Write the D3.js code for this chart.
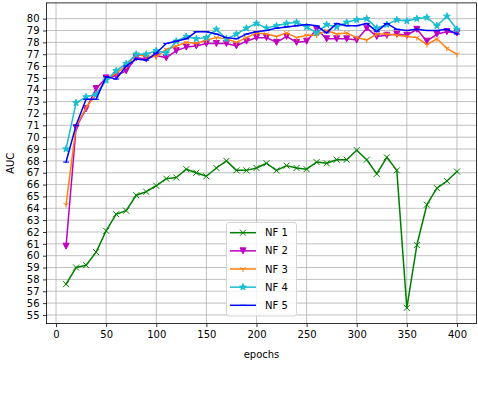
<!DOCTYPE html>
<html><head><meta charset="utf-8">
<script src="https://cdn.jsdelivr.net/npm/d3@7"></script>
<style>body{margin:0;background:#fff}svg{display:block}text{font-family:"DejaVu Sans",sans-serif}</style>
</head><body><svg id="c" width="478" height="394"></svg>
<script>
const epochs = [10,20,30,40,50,60,70,80,90,100,110,120,130,140,150,160,170,180,190,200,210,220,230,240,250,260,270,280,290,300,310,320,330,340,350,360,370,380,390,400];
const nf1 = [57.6,59.0,59.2,60.3,62.1,63.5,63.8,65.1,65.4,65.9,66.5,66.6,67.3,67.0,66.7,67.4,68.0,67.2,67.2,67.4,67.8,67.2,67.6,67.4,67.3,67.9,67.8,68.1,68.1,68.9,68.1,66.9,68.3,67.2,55.6,60.9,64.3,65.7,66.3,67.1];
const nf2 = [60.8,70.8,72.4,74.1,75.0,75.2,75.6,76.7,76.6,76.9,76.7,77.3,77.6,77.7,77.9,77.9,77.9,77.7,78.1,78.4,78.4,78.0,78.5,78.0,78.1,79.1,78.3,78.3,78.3,78.2,79.2,78.5,78.6,78.7,78.6,79.1,78.1,78.7,78.9,78.8];
const nf3 = [64.3,70.9,72.5,73.6,74.9,75.4,76.0,77.0,76.8,76.8,77.4,77.7,78.0,77.9,78.2,78.4,78.3,78.0,78.4,78.8,78.7,78.5,78.8,78.4,78.6,78.6,79.0,78.7,78.8,78.4,78.2,78.7,78.7,78.6,78.5,78.4,77.8,78.3,77.5,77.0];
const nf4 = [69.0,72.9,73.4,73.6,74.8,75.6,76.2,77.0,77.0,77.3,77.1,78.1,78.5,78.3,78.4,79.1,78.3,78.7,79.2,79.6,79.2,79.4,79.6,79.7,79.3,78.8,79.5,79.3,79.7,79.9,80.0,79.2,79.5,79.9,79.8,80.0,80.1,79.4,80.2,79.1];
const nf5 = [67.9,71.0,73.2,73.2,75.1,74.9,76.0,76.6,76.5,77.1,77.9,78.1,78.3,78.9,78.9,78.7,78.4,78.3,78.7,78.9,79.0,79.2,79.3,79.4,79.5,79.4,78.8,79.6,79.4,79.4,79.6,78.9,79.6,79.1,79.0,79.1,79.0,79.0,79.1,78.7];
const seriesNames = ["NF 1","NF 2","NF 3","NF 4","NF 5"];
const xTicks = [0,50,100,150,200,250,300,350,400];
const yTicks = [55,56,57,58,59,60,61,62,63,64,65,66,67,68,69,70,71,72,73,74,75,76,77,78,79,80];

const series = [
  {name: seriesNames[0], values: nf1, color: "#008000", marker: "x"},
  {name: seriesNames[1], values: nf2, color: "#bf00bf", marker: "v"},
  {name: seriesNames[2], values: nf3, color: "#ff7f0e", marker: "1"},
  {name: seriesNames[3], values: nf4, color: "#17becf", marker: "*"},
  {name: seriesNames[4], values: nf5, color: "#0000ff", marker: "_"}
];

const svg = d3.select("#c");
const L = 46.5, R = 476.5, T = 2.9, B = 323.6;
const x = d3.scaleLinear().domain([-9.5, 419.5]).range([L, R]);
const y = d3.scaleLinear().domain([54.27, 81.33]).range([B, T]);

// grid
const g = svg.append("g");
g.selectAll(".gx").data(xTicks).join("line")
  .attr("x1", d => x(d)).attr("x2", d => x(d)).attr("y1", T).attr("y2", B)
  .attr("stroke", "#b0b0b0").attr("stroke-width", 0.8);
g.selectAll(".gy").data(yTicks).join("line")
  .attr("x1", L).attr("x2", R).attr("y1", d => y(d)).attr("y2", d => y(d))
  .attr("stroke", "#b0b0b0").attr("stroke-width", 0.8);

// axes
const xAxis = d3.axisBottom(x).tickValues(xTicks).tickSize(3.5).tickPadding(3.5);
const yAxis = d3.axisLeft(y).tickValues(yTicks).tickSize(3.5).tickPadding(3.5);
const ax = svg.append("g").attr("transform", `translate(0,${B})`).call(xAxis);
const ay = svg.append("g").attr("transform", `translate(${L},0)`).call(yAxis);
[ax, ay].forEach(a => {
  a.select(".domain").remove();
  a.selectAll(".tick line").attr("stroke", "#000").attr("stroke-width", 0.8);
  a.selectAll(".tick text").attr("fill", "#000").style("font-size", "10px").style("font-family", "DejaVu Sans");
});

// marker paths
function markerPath(m, s) {
  const h = s / 2;
  switch (m) {
    case "x": return `M${-h},${-h}L${h},${h}M${-h},${h}L${h},${-h}`;
    case "v": return `M${-h},${-h}L${h},${-h}L0,${h}Z`;
    case "1": return `M0,0L0,${h}M0,0L${-h*0.866},${-h*0.5}M0,0L${h*0.866},${-h*0.5}`;
    case "*": return d3.symbol(d3.symbolStar, 14)();
    case "_": return `M${-h},0L${h},0`;
  }
}

const plot = svg.append("g");
const line = d3.line().x(d => x(d[0])).y(d => y(d[1]));
series.forEach(s => {
  const pts = epochs.map((e, i) => [e, s.values[i]]);
  plot.append("path").datum(pts).attr("d", line)
    .attr("fill", "none").attr("stroke", s.color).attr("stroke-width", 1.5)
    .attr("stroke-linejoin", "round").attr("stroke-linecap", "square");
  const filled = (s.marker === "v" || s.marker === "*");
  plot.selectAll(null).data(pts).join("path")
    .attr("transform", d => `translate(${x(d[0])},${y(d[1])})`)
    .attr("d", markerPath(s.marker, 6))
    .attr("fill", filled ? s.color : "none")
    .attr("stroke", s.color).attr("stroke-width", 1);
});

// spines
svg.append("rect").attr("x", L).attr("y", T).attr("width", R - L).attr("height", B - T)
  .attr("fill", "none").attr("stroke", "#000").attr("stroke-width", 0.8);

// labels
svg.append("text").attr("x", (L + R) / 2).attr("y", 358).attr("text-anchor", "middle")
  .style("font-size", "10px").text("epochs");
svg.append("text").attr("transform", `translate(14,${(T + B) / 2}) rotate(-90)`)
  .attr("text-anchor", "middle").style("font-size", "10px").text("AUC");

// legend
const lg = svg.append("g");
lg.append("rect").attr("x", 226.5).attr("y", 222.5).attr("width", 70).attr("height", 93.5)
  .attr("rx", 2.5).attr("fill", "#fff").attr("fill-opacity", 0.8).attr("stroke", "#cccccc").attr("stroke-width", 0.8);
series.forEach((s, i) => {
  const cy = 232.7 + i * 18.15;
  lg.append("line").attr("x1", 230).attr("x2", 256).attr("y1", cy).attr("y2", cy)
    .attr("stroke", s.color).attr("stroke-width", 1.5);
  const filled = (s.marker === "v" || s.marker === "*");
  lg.append("path").attr("transform", `translate(243,${cy})`).attr("d", markerPath(s.marker, 6))
    .attr("fill", filled ? s.color : "none").attr("stroke", s.color).attr("stroke-width", 1);
  lg.append("text").attr("x", 265).attr("y", cy + 3.6).style("font-size", "10px").text(s.name);
});
</script></body></html>
